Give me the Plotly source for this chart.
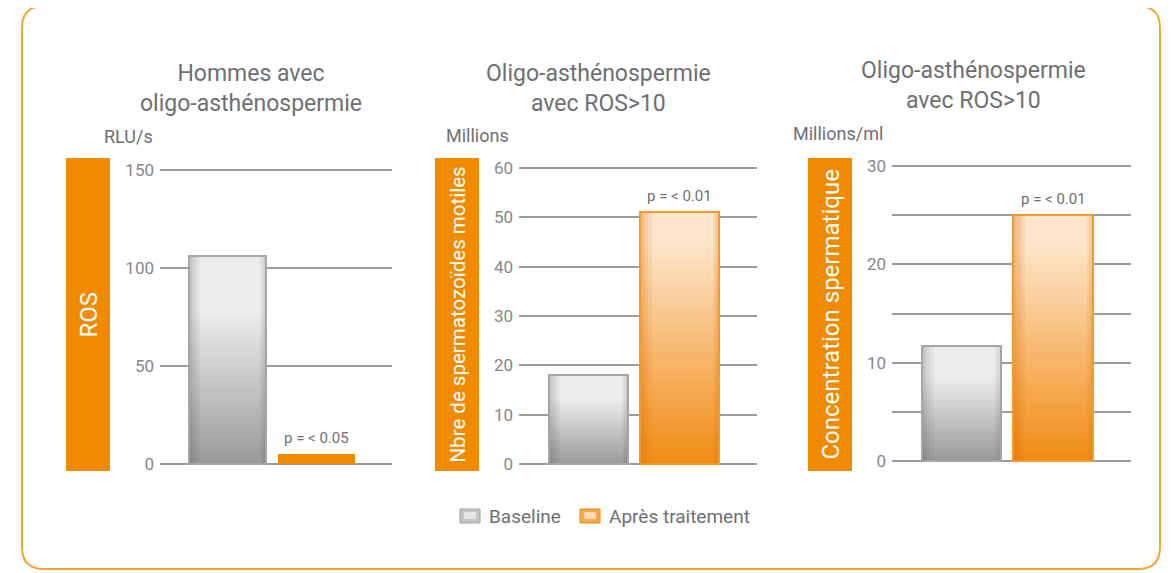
import plotly.graph_objects as go

W, H = 1171, 573
OFF = 8  # page body margin, the figure is drawn this far in from the corner
FW, FH = W - OFF, H - OFF

# data
series = ["Baseline", "Après traitement"]
titles = ["Hommes avec<br>oligo-asthénospermie",
          "Oligo-asthénospermie<br>avec ROS>10",
          "Oligo-asthénospermie<br>avec ROS>10"]
units = ["RLU/s", "Millions", "Millions/ml"]
side_labels = ["ROS", "Nbre de spermatozoïdes motiles", "Concentration spermatique"]
baseline = [106, 18, 11.7]
apres = [5, 51, 25]
p_values = ["p = < 0.05", "p = < 0.01", "p = < 0.01"]
y_max = [150, 60, 30]
y_ticks = [[0, 50, 100, 150], [0, 10, 20, 30, 40, 50, 60], [0, 10, 20, 30]]

# pixel layout of each panel (page pixels)
panels = [
    dict(x0=160, x1=392, ybot=464, ytop=170, box=(66, 110, 158, 471), unit=(128, 137), title=(251, 88), side=24),
    dict(x0=519, x1=757, ybot=464, ytop=168, box=(435, 479, 158, 471), unit=(478, 135), title=(599, 88), side=20.5),
    dict(x0=892, x1=1131, ybot=461, ytop=166, box=(808, 852, 158, 471), unit=(838, 133), title=(973, 86), side=24),
]

ORANGE = "#f08a00"
TXT = "#6e6f72"
TICK = "#85878a"
GRID = "#9c9c9c"
FONT = "Roboto"
BW = 0.87


def px(x):
    return (x - OFF) / FW


def py(y):
    return 1 - (y - OFF) / FH


def mix(c0, c1, t):
    return "rgb(%d,%d,%d)" % tuple(round(a + (b - a) * t) for a, b in zip(c0, c1))


def gray_at(t):
    return mix((152, 152, 152), (237, 237, 237), min(1.0, t / 0.75))


def orange_at(t):
    return mix((240, 138, 16), (253, 230, 204), min(1.0, t / 0.9))


N = 36
PAD = 3
fig = go.Figure()

for i, p in enumerate(panels):
    xa = "x" if i == 0 else "x%d" % (i + 1)
    ya = "y" if i == 0 else "y%d" % (i + 1)
    vals = [baseline[i], apres[i]]
    for j, v in enumerate(vals):
        solid = (j == 1 and i == 0)
        for k in range(N):
            t = (N - k) / N
            if solid:
                col = ORANGE
            else:
                col = gray_at(t) if j == 0 else orange_at(t)
            fig.add_trace(go.Bar(
                x=[j], y=[v * t], width=BW, xaxis=xa, yaxis=ya,
                marker=dict(color=col, line=dict(width=0)),
                showlegend=False, hoverinfo="skip"))
        if solid:
            continue
        # soft shading along the left and right edges
        shade = "rgba(90,90,90,0.07)" if j == 0 else "rgba(225,110,0,0.10)"
        for w in (0.13, 0.09, 0.06, 0.03):
            fig.add_trace(go.Bar(
                x=[j], y=[v], width=w, offset=-BW / 2, xaxis=xa, yaxis=ya,
                marker=dict(color=shade, line=dict(width=0)),
                showlegend=False, hoverinfo="skip"))
        for w in (0.07, 0.045, 0.02):
            fig.add_trace(go.Bar(
                x=[j], y=[v], width=w, offset=BW / 2 - w, xaxis=xa, yaxis=ya,
                marker=dict(color=shade, line=dict(width=0)),
                showlegend=False, hoverinfo="skip"))
        fig.add_trace(go.Bar(
            x=[j], y=[v], width=BW, xaxis=xa, yaxis=ya,
            marker=dict(color="rgba(0,0,0,0)",
                        line=dict(width=2, color="#a6a6a6" if j == 0 else "#f39a2c")),
            showlegend=False, hoverinfo="skip"))
    fig.add_annotation(x=1, y=apres[i], xref=xa, yref=ya, text=p_values[i],
                       showarrow=False, yanchor="bottom", yshift=5,
                       font=dict(family=FONT, size=15, color=TXT))

    upp = y_max[i] / (p["ybot"] - p["ytop"])
    xkey = "xaxis" if i == 0 else "xaxis%d" % (i + 1)
    ykey = "yaxis" if i == 0 else "yaxis%d" % (i + 1)
    fig.update_layout({
        xkey: dict(domain=[px(p["x0"]), px(p["x1"])], range=[-0.76, 1.85],
                   showticklabels=False, showgrid=False, zeroline=False,
                   anchor=ya, fixedrange=True),
        ykey: dict(domain=[py(p["ybot"] + PAD), py(p["ytop"] - PAD)],
                   range=[-PAD * upp, y_max[i] + PAD * upp],
                   tickvals=y_ticks[i], showgrid=True, gridcolor=GRID, gridwidth=1.6,
                   zeroline=False, showline=False, ticklabelstandoff=5,
                   tickfont=dict(family=FONT, size=17, color=TICK),
                   anchor=xa, fixedrange=True),
    })
    if i == 2:
        fig.update_layout({ykey: dict(minor=dict(dtick=5, showgrid=True,
                                                 gridcolor=GRID, gridwidth=1.6))})

    bx0, bx1, by0, by1 = p["box"]
    fig.add_shape(type="rect", xref="paper", yref="paper",
                  x0=px(bx0), x1=px(bx1), y0=py(by1), y1=py(by0),
                  fillcolor=ORANGE, line=dict(width=0), layer="below")
    fig.add_annotation(x=px((bx0 + bx1) / 2), y=py((by0 + by1) / 2),
                       xref="paper", yref="paper", text=side_labels[i],
                       textangle=-90, showarrow=False, xanchor="center", yanchor="middle",
                       font=dict(family=FONT, size=p["side"], color="white"))
    fig.add_annotation(x=px(p["unit"][0]), y=py(p["unit"][1]), xref="paper", yref="paper",
                       text=units[i], showarrow=False, xanchor="center", yanchor="middle",
                       font=dict(family=FONT, size=18, color=TXT))
    fig.add_annotation(x=px(p["title"][0]), y=py(p["title"][1]), xref="paper", yref="paper",
                       text=titles[i], showarrow=False, xanchor="center", yanchor="middle",
                       font=dict(family=FONT, size=23, color=TXT))

# legend keys, drawn by hand
legend_keys = [
    dict(x0=460, x1=480, text_x=487, outer="#a4a4a4", fill="#c4c4c4", inner="#e6e6e6"),
    dict(x0=580, x1=600, text_x=607, outer="#f08a10", fill="#f5a94c", inner="#fcd9b2"),
]
ly0, ly1 = 509, 523
for name, key in zip(series, legend_keys):
    fig.add_shape(type="rect", xref="paper", yref="paper",
                  x0=px(key["x0"]), x1=px(key["x1"]), y0=py(ly1), y1=py(ly0),
                  fillcolor=key["fill"], line=dict(width=1, color=key["outer"]))
    fig.add_shape(type="rect", xref="paper", yref="paper",
                  x0=px(key["x0"] + 4), x1=px(key["x1"] - 4), y0=py(ly1 - 4), y1=py(ly0 + 3),
                  fillcolor=key["inner"], line=dict(width=0))
    fig.add_annotation(x=px(key["text_x"]), y=py((ly0 + ly1) / 2), xref="paper", yref="paper",
                       text=name, showarrow=False, xanchor="left", yanchor="middle",
                       font=dict(family=FONT, size=19, color=TXT))

# rounded frame
r = 22
fx0, fx1, fy0, fy1 = 22, 1160, 6, 569
path = ("M {a},{t} L {b},{t} Q {R},{t} {R},{t2} L {R},{bt2} Q {R},{B} {b},{B} "
        "L {a},{B} Q {L},{B} {L},{bt2} L {L},{t2} Q {L},{t} {a},{t} Z").format(
    a=px(fx0 + r), b=px(fx1 - r), L=px(fx0), R=px(fx1),
    t=py(fy0), t2=py(fy0 + r), B=py(fy1), bt2=py(fy1 - r))
fig.add_shape(type="path", xref="paper", yref="paper", path=path,
              line=dict(color="#f4a531", width=2), layer="below")

fig.update_layout(
    width=FW, height=FH,
    margin=dict(l=0, r=0, t=0, b=0, pad=0, autoexpand=False),
    paper_bgcolor="white", plot_bgcolor="rgba(0,0,0,0)",
    barmode="overlay", bargap=0,
    showlegend=False,
)

fig.write_html("out.html")
